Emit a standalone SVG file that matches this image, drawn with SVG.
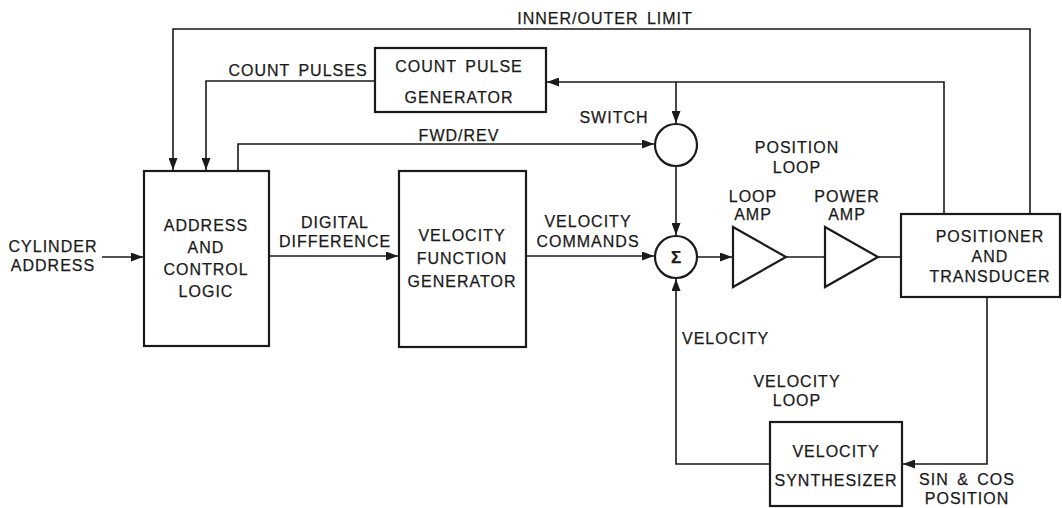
<svg xmlns="http://www.w3.org/2000/svg" width="1062" height="508" viewBox="0 0 1062 508">
<style>
text{font-family:"Liberation Sans",Arial,sans-serif;font-size:16px;letter-spacing:1px;word-spacing:3px;fill:#1a1a1a;stroke:#1a1a1a;stroke-width:0.25;text-anchor:middle}
.box{fill:#fff;stroke:#1a1a1a;stroke-width:2.2}
.ln{fill:none;stroke:#1a1a1a;stroke-width:1.6}
.l{text-anchor:start}
</style>
<defs>
<marker id="ar" viewBox="0 0 12 9" refX="12" refY="4.5" markerWidth="12" markerHeight="9" markerUnits="userSpaceOnUse" orient="auto">
<path d="M0,0 L12,4.5 L0,9 Z" fill="#1a1a1a"/>
</marker>
</defs>
<rect width="1062" height="508" fill="#fff"/>
<g id="connectors">
<polyline class="ln" points="1030,214 1030,29 173,29 173,170" marker-end="url(#ar)"/>
<polyline class="ln" points="375,81 206,81 206,170" marker-end="url(#ar)"/>
<polyline class="ln" points="944,214 944,82 547,82" marker-end="url(#ar)"/>
<line class="ln" x1="676" y1="82" x2="676" y2="123" marker-end="url(#ar)"/>
<polyline class="ln" points="238,171 238,144 654,144" marker-end="url(#ar)"/>
<line class="ln" x1="676" y1="166" x2="676" y2="235" marker-end="url(#ar)"/>
<line class="ln" x1="102" y1="257" x2="143" y2="257" marker-end="url(#ar)"/>
<line class="ln" x1="269" y1="256" x2="398" y2="256" marker-end="url(#ar)"/>
<line class="ln" x1="526" y1="256" x2="654" y2="256" marker-end="url(#ar)"/>
<line class="ln" x1="698" y1="257" x2="732" y2="257" marker-end="url(#ar)"/>
<line class="ln" x1="786" y1="257" x2="825" y2="257"/>
<line class="ln" x1="878" y1="257" x2="901" y2="257"/>
<polyline class="ln" points="987,297 987,464 903,464" marker-end="url(#ar)"/>
<polyline class="ln" points="770,464 676,464 676,279" marker-end="url(#ar)"/>
</g>
<g id="count-pulse-generator">
<rect class="box" x="375" y="48" width="171" height="64"/>
<text x="459" y="72">COUNT PULSE</text>
<text x="459" y="103">GENERATOR</text>
</g>
<g id="address-control-logic">
<rect class="box" x="144" y="171" width="125" height="175"/>
<text x="206" y="231">ADDRESS</text>
<text x="206" y="253">AND</text>
<text x="206" y="275">CONTROL</text>
<text x="206" y="297">LOGIC</text>
</g>
<g id="velocity-function-generator">
<rect class="box" x="399" y="171" width="127" height="176"/>
<text x="462" y="241">VELOCITY</text>
<text x="462" y="264">FUNCTION</text>
<text x="462" y="287">GENERATOR</text>
</g>
<g id="switch">
<circle class="box" cx="676" cy="145" r="21"/>
</g>
<g id="summer">
<circle class="box" cx="676" cy="257" r="21"/>
<text x="676" y="263" style="letter-spacing:0;font-size:17px;font-weight:bold">Σ</text>
</g>
<g id="loop-amp">
<polygon class="box" points="733,227 786,257 733,287"/>
</g>
<g id="power-amp">
<polygon class="box" points="825,227 878,257 825,287"/>
</g>
<g id="positioner-transducer">
<rect class="box" x="901" y="214" width="159" height="83"/>
<text x="990" y="242">POSITIONER</text>
<text x="990" y="262">AND</text>
<text x="990" y="282">TRANSDUCER</text>
</g>
<g id="velocity-synthesizer">
<rect class="box" x="770" y="422" width="132" height="84"/>
<text x="836" y="457">VELOCITY</text>
<text x="836" y="486">SYNTHESIZER</text>
</g>
<g id="labels">
<text x="605" y="24">INNER/OUTER LIMIT</text>
<text x="298" y="76">COUNT PULSES</text>
<text x="614" y="123">SWITCH</text>
<text x="459" y="141">FWD/REV</text>
<text x="797" y="153">POSITION</text>
<text x="797" y="173">LOOP</text>
<text x="753" y="202">LOOP</text>
<text x="753" y="220">AMP</text>
<text x="847" y="202">POWER</text>
<text x="847" y="220">AMP</text>
<text x="53" y="252">CYLINDER</text>
<text x="53" y="271">ADDRESS</text>
<text x="335" y="228">DIGITAL</text>
<text x="335" y="247">DIFFERENCE</text>
<text x="588" y="227">VELOCITY</text>
<text x="588" y="247">COMMANDS</text>
<text class="l" x="682" y="344">VELOCITY</text>
<text x="797" y="387">VELOCITY</text>
<text x="797" y="406">LOOP</text>
<text x="967" y="485">SIN &amp; COS</text>
<text x="967" y="504">POSITION</text>
</g>
</svg>
